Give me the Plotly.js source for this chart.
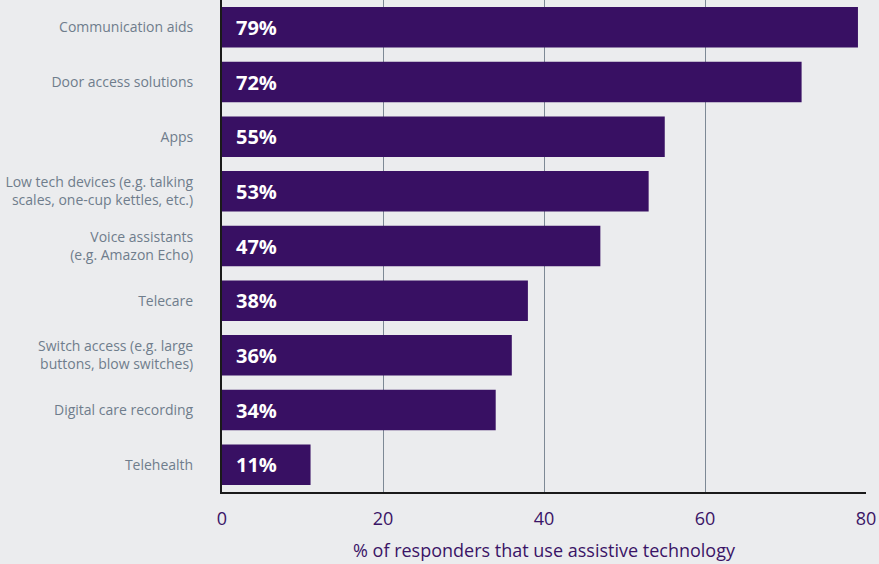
<!DOCTYPE html>
<html><head><meta charset="utf-8">
<script src="https://cdn.plot.ly/plotly-3.0.1.min.js"></script>
<style>html,body{margin:0;padding:0;background:#ebecee;}</style>
</head><body>
<div id="chart" style="width:879px;height:564px;"></div>
<script>
const categories = [
  "Communication aids",
  "Door access solutions",
  "Apps",
  "Low tech devices (e.g. talking<br>scales, one-cup kettles, etc.)",
  "Voice assistants<br>(e.g. Amazon Echo)",
  "Telecare",
  "Switch access (e.g. large<br>buttons, blow switches)",
  "Digital care recording",
  "Telehealth"
];
const values = [79, 72, 55, 53, 47, 38, 36, 34, 11];
const tickVals = [0, 20, 40, 60, 80];
const axisTitle = "% of responders that use assistive technology";

const font = "Open Sans, Lato, sans-serif";
const trace = {
  type: "bar", orientation: "h",
  x: values, y: categories,
  marker: {color: "#381063"},
  hoverinfo: "skip"
};
const annotations = values.map((v, i) => ({
  x: 0, y: categories[i], xref: "x", yref: "y",
  text: "<b>" + v + "%</b>", showarrow: false,
  xanchor: "left", xshift: 12,
  font: {family: font, size: 20, color: "#ffffff"}
}));
const layout = {
  width: 879, height: 564,
  paper_bgcolor: "#ebecee", plot_bgcolor: "#ebecee",
  margin: {l: 222, r: 13, t: 0, b: 72},
  bargap: 0.26,
  showlegend: false,
  xaxis: {
    range: [0, 80], tickvals: tickVals, fixedrange: true,
    showgrid: true, gridcolor: "#7d8995", gridwidth: 1,
    zeroline: false,
    showline: true, linecolor: "#1a1a1a", linewidth: 2,
    ticks: "outside", ticklen: 9, tickcolor: "rgba(0,0,0,0)",
    tickfont: {family: font, size: 18, color: "#3a1466"},
    title: {text: axisTitle, font: {family: font, size: 18, color: "#3a1466"}, standoff: 16}
  },
  yaxis: {
    autorange: "reversed", type: "category",
    showline: true, linecolor: "#1a1a1a", linewidth: 2,
    showgrid: false, zeroline: false,
    ticks: "outside", ticklen: 24, tickcolor: "rgba(0,0,0,0)",
    tickfont: {family: font, size: 14, color: "#6f7d8c"}
  },
  annotations: annotations
};
Plotly.newPlot("chart", [trace], layout, {displayModeBar: false, staticPlot: true});
</script>
</body></html>
